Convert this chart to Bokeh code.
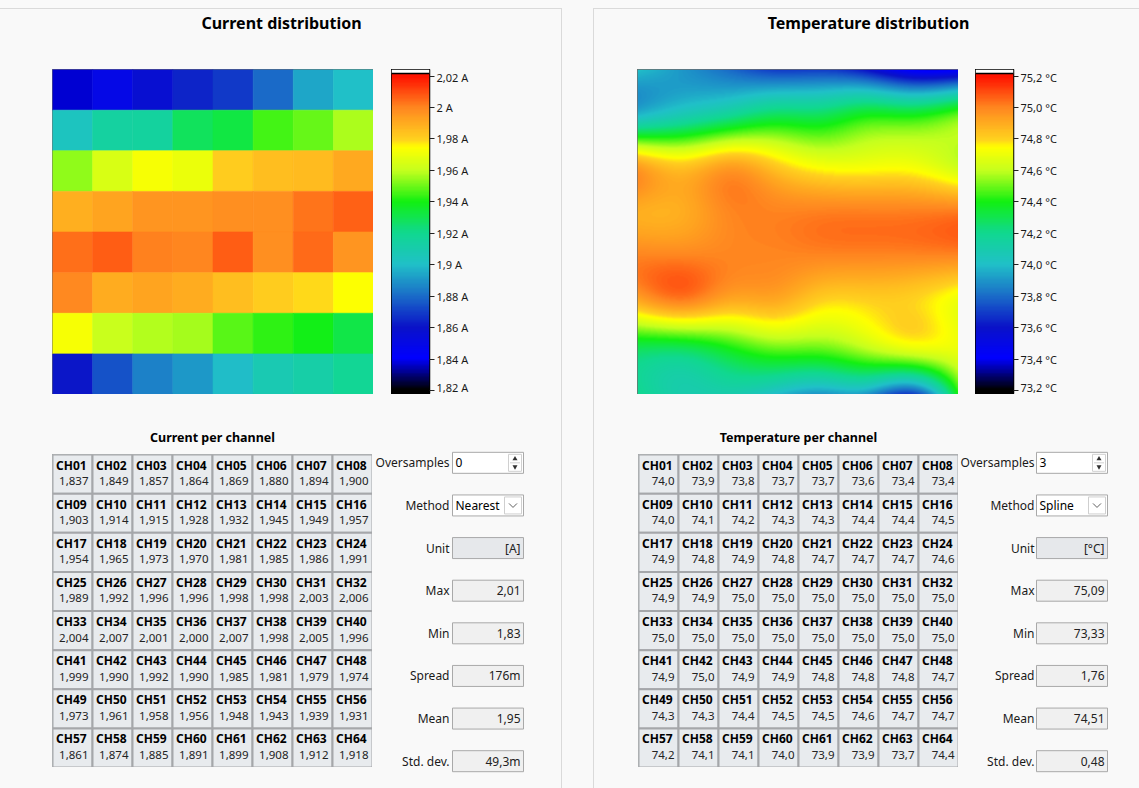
import numpy as np
from bokeh.plotting import figure
from bokeh.layouts import row, column
from bokeh.models import (Spacer, Range1d, LinearColorMapper, LinearAxis,
                          FixedTicker, ColumnDataSource)
from bokeh.core.properties import value
from bokeh.transform import linear_cmap
from bokeh.embed import file_html
from bokeh.resources import INLINE

FONT = "Noto Sans"
BG = "#f9f9f9"
PANEL_LINE = "#dadada"

# ---------------------------------------------------------------- data
channels = [f"CH{i:02d}" for i in range(1, 65)]

current_values = [
    1.837, 1.849, 1.857, 1.864, 1.869, 1.880, 1.894, 1.900,
    1.903, 1.914, 1.915, 1.928, 1.932, 1.945, 1.949, 1.957,
    1.954, 1.965, 1.973, 1.970, 1.981, 1.985, 1.986, 1.991,
    1.989, 1.992, 1.996, 1.996, 1.998, 1.998, 2.003, 2.006,
    2.004, 2.007, 2.001, 2.000, 2.007, 1.998, 2.005, 1.996,
    1.999, 1.990, 1.992, 1.990, 1.985, 1.981, 1.979, 1.974,
    1.973, 1.961, 1.958, 1.956, 1.948, 1.943, 1.939, 1.931,
    1.861, 1.874, 1.885, 1.891, 1.899, 1.908, 1.912, 1.918,
]

temperature_values = [
    74.0, 73.9, 73.8, 73.7, 73.7, 73.6, 73.4, 73.4,
    74.0, 74.1, 74.2, 74.3, 74.3, 74.4, 74.4, 74.5,
    74.9, 74.8, 74.9, 74.8, 74.7, 74.7, 74.7, 74.6,
    74.9, 74.9, 75.0, 75.0, 75.0, 75.0, 75.0, 75.0,
    75.0, 75.0, 75.0, 75.0, 75.0, 75.0, 75.0, 75.0,
    74.9, 75.0, 74.9, 74.9, 74.8, 74.8, 74.8, 74.7,
    74.3, 74.3, 74.4, 74.5, 74.5, 74.6, 74.7, 74.7,
    74.2, 74.1, 74.1, 74.0, 73.9, 73.9, 73.7, 74.4,
]

current_ticks = [1.82, 1.84, 1.86, 1.88, 1.90, 1.92, 1.94, 1.96, 1.98, 2.00, 2.02]
current_tick_labels = ["1,82 A", "1,84 A", "1,86 A", "1,88 A", "1,9 A", "1,92 A",
                       "1,94 A", "1,96 A", "1,98 A", "2 A", "2,02 A"]
temperature_ticks = [73.2, 73.4, 73.6, 73.8, 74.0, 74.2, 74.4, 74.6, 74.8, 75.0, 75.2]
temperature_tick_labels = ["73,2 °C", "73,4 °C", "73,6 °C", "73,8 °C", "74,0 °C", "74,2 °C",
                           "74,4 °C", "74,6 °C", "74,8 °C", "75,0 °C", "75,2 °C"]

control_names = ["Oversamples", "Method", "Unit", "Max", "Min", "Spread", "Mean", "Std. dev."]
current_controls = ["0", "Nearest", "[A]", "2,01", "1,83", "176m", "1,95", "49,3m"]
temperature_controls = ["3", "Spline", "[°C]", "75,09", "73,33", "1,76", "74,51", "0,48"]

# ---------------------------------------------------------------- colour scale
scale_stops = [
    (0.000, "#000000"), (0.100, "#0000ff"), (0.200, "#0a12c8"), (0.300, "#1a6cc8"),
    (0.400, "#20c0c8"), (0.500, "#10d890"), (0.600, "#12f012"), (0.700, "#c4ff1e"),
    (0.775, "#ffff00"), (0.800, "#ffd21e"), (0.900, "#ff8820"), (1.000, "#ff1400"),
]


def build_palette(n=256):
    pos = [s for s, _ in scale_stops]
    rgb = np.array([[int(c[i:i + 2], 16) for i in (1, 3, 5)] for _, c in scale_stops], float)
    t = np.linspace(0, 1, n)
    chans = [np.interp(t, pos, rgb[:, k]) for k in range(3)]
    return ["#%02x%02x%02x" % tuple(int(round(ch[i])) for ch in chans) for i in range(n)]


PALETTE = build_palette()


def natural_spline_weights(n, xs):
    """Matrix W (len(xs) x n) so that W @ y is the natural cubic spline of y at xs."""
    cols = []
    for e in np.eye(n):
        A = np.zeros((n, n))
        b = np.zeros(n)
        A[0, 0] = A[-1, -1] = 1.0
        for i in range(1, n - 1):
            A[i, i - 1], A[i, i], A[i, i + 1] = 1.0, 4.0, 1.0
            b[i] = 6.0 * (e[i + 1] - 2 * e[i] + e[i - 1])
        m = np.linalg.solve(A, b)
        i = np.clip(np.floor(xs).astype(int), 0, n - 2)
        t = xs - i
        cols.append((1 - t) * e[i] + t * e[i + 1]
                    + ((1 - t) ** 3 - (1 - t)) * m[i] / 6 + (t ** 3 - t) * m[i + 1] / 6)
    return np.stack(cols, axis=1)


# ---------------------------------------------------------------- helpers
def base_fig(fw, fh, xr, yr):
    p = figure(frame_width=fw, frame_height=fh, x_range=xr, y_range=yr,
               output_backend="svg", toolbar_location=None, tools="", title=None,
               min_border=0, x_axis_location=None, y_axis_location=None,
               background_fill_color=BG, border_fill_color=BG, outline_line_color=None)
    p.xgrid.grid_line_color = None
    p.ygrid.grid_line_color = None
    return p


def line_spacer(w, h):
    return Spacer(width=w, height=h, styles={"background-color": PANEL_LINE})


def title_fig(text, width, height, cx, cy, size, style="bold"):
    p = base_fig(width, height, Range1d(0, width), Range1d(height, 0))
    p.text(x=[cx], y=[cy], text=[text], text_align="center", text_baseline="middle",
           text_font=value(FONT), text_font_style=style, text_font_size=size,
           text_color="#000000")
    return p


def current_map(values, lo, hi):
    p = base_fig(321, 325, Range1d(0, 8), Range1d(8, 0))
    idx = np.arange(64)
    src = ColumnDataSource(dict(x=idx % 8 + 0.5, y=idx // 8 + 0.5, v=values))
    cmap = linear_cmap("v", PALETTE, lo, hi, low_color=PALETTE[0], high_color=PALETTE[-1])
    p.rect("x", "y", 1, 1, source=src, fill_color=cmap, line_color=cmap, line_width=0.6)
    p.outline_line_color = "#6e6e6e"
    p.outline_line_width = 2
    return p


def spline_map(values, lo, hi):
    p = base_fig(321, 325, Range1d(0, 8), Range1d(0, 8))
    grid = np.array(values, float).reshape(8, 8)
    wr = natural_spline_weights(8, np.linspace(0, 7, 325))
    wc = natural_spline_weights(8, np.linspace(0, 7, 321))
    fine = wr @ grid @ wc.T
    mapper = LinearColorMapper(palette=PALETTE, low=lo, high=hi,
                               low_color=PALETTE[0], high_color=PALETTE[-1])
    p.image(image=[np.flipud(fine)], x=0, y=0, dw=8, dh=8, color_mapper=mapper)
    p.outline_line_color = "#6e6e6e"
    p.outline_line_width = 2
    return p


def colorbar_fig(ticks, tick_labels):
    lo, hi = ticks[0], ticks[-1]
    px = (hi - lo) / 314.5
    start, end = lo - 4 * px, hi + 6.5 * px
    grad_top = hi + 2.5 * px
    p = base_fig(38, 325, Range1d(0, 1), Range1d(start, end))
    mapper = LinearColorMapper(palette=PALETTE, low=lo, high=hi,
                               low_color=PALETTE[0], high_color=PALETTE[-1])
    grad = np.linspace(start, grad_top, 500).reshape(-1, 1)
    p.image(image=[grad], x=0, y=start, dw=1, dh=grad_top - start, color_mapper=mapper)
    p.quad(left=0, right=1, bottom=grad_top, top=end, fill_color="white", line_color=None)
    p.segment(x0=0, y0=grad_top, x1=1, y1=grad_top, line_color="black", line_width=1.3)
    p.outline_line_color = "black"
    p.outline_line_width = 1.5
    axis = LinearAxis(ticker=FixedTicker(ticks=ticks),
                      major_label_overrides=dict(zip(ticks, tick_labels)))
    axis.axis_line_color = None
    axis.major_tick_in = 0
    axis.major_tick_out = 5
    axis.major_tick_line_color = "#222222"
    axis.minor_tick_line_color = None
    axis.major_label_standoff = 2
    axis.major_label_text_font = FONT
    axis.major_label_text_font_size = "11px"
    axis.major_label_text_color = "#1a1a1a"
    p.add_layout(axis, "right")
    return p


def channel_table(labels):
    p = base_fig(320, 313, Range1d(0, 8), Range1d(8, 0))
    idx = np.arange(64)
    cx, cy = idx % 8, idx // 8
    p.rect(x=cx + 0.5, y=cy + 0.5, width=1, height=1, fill_color="#e8ebee",
           line_color="#a5a7aa", line_width=2)
    p.text(x=cx + 0.09, y=cy + 0.27, text=channels, text_align="left", text_baseline="middle",
           text_font=value(FONT), text_font_style="bold", text_font_size="12px",
           text_color="#000000")
    p.text(x=cx + 0.9, y=cy + 0.68, text=labels, text_align="right", text_baseline="middle",
           text_font=value(FONT), text_font_size="11.5px", text_color="#222222")
    p.outline_line_color = "#a5a7aa"
    p.outline_line_width = 2
    return p


def controls_fig(width, values, label_right, box_left, box_w=71):
    row_px = 341 / 8
    p = base_fig(width, 341, Range1d(0, width), Range1d(8, 0))
    ys = [i + 0.5 for i in range(len(control_names))]
    p.text(x=[label_right] * 8, y=ys, text=control_names, text_align="right",
           text_baseline="middle", text_font=value(FONT), text_font_size="12px",
           text_color="#1a1a1a")
    fills = ["#ffffff", "#ffffff", "#e6e8eb"] + ["#f0f0f0"] * 5
    p.rect(x=box_left + box_w / 2, y=ys, width=box_w, height=21 / row_px,
           fill_color=fills, line_color="#a9a9a9", line_width=1)
    # editable fields: text at the left
    p.text(x=[box_left + 3] * 2, y=ys[:2], text=values[:2], text_align="left",
           text_baseline="middle", text_font=value(FONT), text_font_size="12px",
           text_color="#000000")
    # read-only fields: text at the right
    p.text(x=[box_left + box_w - 3] * 6, y=ys[2:], text=values[2:], text_align="right",
           text_baseline="middle", text_font=value(FONT), text_font_size="12px",
           text_color="#222222")
    # spinner arrows
    sx = box_left + 62.5
    p.rect(x=[sx], y=[ys[0]], width=13, height=17 / row_px, fill_color="#ffffff",
           line_color="#d0d0d0")
    p.segment(x0=sx - 5, y0=ys[0], x1=sx + 5, y1=ys[0], line_color="#d0d0d0")
    p.scatter(x=[sx], y=[ys[0] - 4 / row_px], marker="triangle", size=5,
              fill_color="#303030", line_color=None)
    p.scatter(x=[sx], y=[ys[0] + 4 / row_px], marker="inverted_triangle", size=5,
              fill_color="#303030", line_color=None)
    # drop-down chevron
    dx = box_left + 60.5
    p.rect(x=[dx], y=[ys[1]], width=17, height=17 / row_px, fill_color="#ffffff",
           line_color="#cfcfcf")
    p.line(x=[dx - 4, dx, dx + 4],
           y=[ys[1] - 2 / row_px, ys[1] + 2 / row_px, ys[1] - 2 / row_px],
           line_color="#606060", line_width=1)
    return p


# ---------------------------------------------------------------- left panel
left_content = column(
    line_spacer(561, 1),
    title_fig("Current distribution", 561, 40, 281, 13.5, "16px"),
    Spacer(width=561, height=20),
    row(Spacer(width=52, height=325), current_map(current_values, 1.82, 2.02),
        Spacer(width=18, height=325), colorbar_fig(current_ticks, current_tick_labels)),
    row(Spacer(width=52, height=388),
        column(title_fig("Current per channel", 320, 60, 160, 43, "12.5px"),
               channel_table([f"{v:.3f}".replace(".", ",") for v in current_values])),
        column(Spacer(width=189, height=47),
               controls_fig(189, current_controls, 77, 80))),
)
left_panel = row(left_content, line_spacer(1, 780))

# ---------------------------------------------------------------- right panel
right_content = column(
    line_spacer(545, 1),
    title_fig("Temperature distribution", 545, 40, 274, 13.5, "16px"),
    Spacer(width=545, height=20),
    row(Spacer(width=43, height=325), spline_map(temperature_values, 73.2, 75.2),
        Spacer(width=17, height=325), colorbar_fig(temperature_ticks, temperature_tick_labels)),
    row(Spacer(width=44, height=388),
        column(title_fig("Temperature per channel", 320, 60, 160, 43, "12.5px"),
               channel_table([f"{v:.1f}".replace(".", ",") for v in temperature_values])),
        column(Spacer(width=181, height=47),
               controls_fig(181, temperature_controls, 76, 78))),
)
right_panel = row(line_spacer(1, 780), right_content)

page = column(Spacer(width=1139, height=8),
              row(left_panel, Spacer(width=31, height=780), right_panel),
              styles={"background-color": BG})

open("out.html", "w").write(file_html(page, INLINE))
